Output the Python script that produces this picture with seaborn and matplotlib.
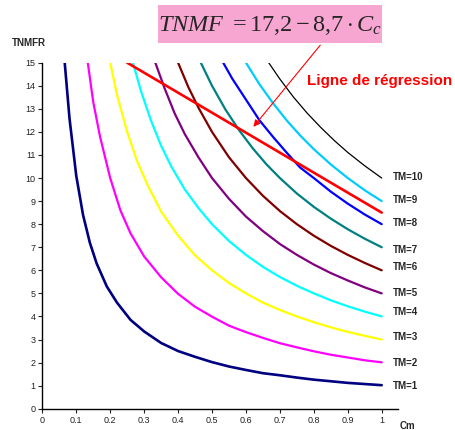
import pandas as pd
import matplotlib.pyplot as plt
import seaborn as sns
from matplotlib.patches import Rectangle

# Courbes : Cm -> TNMFR pour chaque TM
x_tm1 = [0.066, 0.08, 0.10, 0.12, 0.14, 0.16, 0.19, 0.22, 0.26, 0.30, 0.35, 0.40,
         0.45, 0.50, 0.55, 0.60, 0.65, 0.70, 0.75, 0.80, 0.85, 0.90, 0.95, 1.00]
y_tm1 = [15.0, 12.6, 10.1, 8.4, 7.2, 6.3, 5.3, 4.6, 3.85, 3.35, 2.85, 2.5,
         2.25, 2.02, 1.83, 1.68, 1.54, 1.45, 1.35, 1.26, 1.19, 1.12, 1.07, 1.02]
x_tm2 = [0.134, 0.15, 0.17, 0.20, 0.23, 0.26, 0.30, 0.35, 0.40, 0.45, 0.50,
         0.55, 0.60, 0.65, 0.70, 0.75, 0.80, 0.85, 0.90, 0.95, 1.00]
y_tm2 = [15.0, 13.3, 11.8, 10.0, 8.6, 7.6, 6.6, 5.7, 4.98, 4.42, 3.99,
         3.6, 3.32, 3.07, 2.84, 2.66, 2.49, 2.34, 2.22, 2.1, 2.01]
x_tm3 = [0.20, 0.22, 0.25, 0.28, 0.31, 0.35, 0.40, 0.45, 0.50, 0.55,
         0.60, 0.65, 0.70, 0.75, 0.80, 0.85, 0.90, 0.95, 1.00]
y_tm3 = [15.0, 13.6, 12.0, 10.7, 9.7, 8.55, 7.5, 6.65, 6.0, 5.45,
         5.0, 4.6, 4.28, 4.0, 3.75, 3.53, 3.33, 3.16, 3.0]
x_tm4 = [0.267, 0.29, 0.32, 0.35, 0.38, 0.42, 0.46, 0.50, 0.55, 0.60,
         0.65, 0.70, 0.75, 0.80, 0.85, 0.90, 0.95, 1.00]
y_tm4 = [15.0, 13.8, 12.5, 11.4, 10.5, 9.5, 8.7, 8.0, 7.27, 6.67,
         6.15, 5.71, 5.33, 5.0, 4.7, 4.44, 4.21, 4.0]
x_tm5 = [0.333, 0.36, 0.39, 0.42, 0.46, 0.50, 0.55, 0.60, 0.65, 0.70,
         0.75, 0.80, 0.85, 0.90, 0.95, 1.00]
y_tm5 = [15.0, 13.9, 12.8, 11.9, 10.9, 10.0, 9.1, 8.33, 7.7, 7.14,
         6.67, 6.25, 5.88, 5.56, 5.26, 5.0]
x_tm6 = [0.40, 0.43, 0.46, 0.50, 0.55, 0.60, 0.65, 0.70, 0.75, 0.80,
         0.85, 0.90, 0.95, 1.00]
y_tm6 = [15.0, 13.95, 13.05, 12.0, 10.9, 10.0, 9.23, 8.57, 8.0, 7.5,
         7.06, 6.67, 6.32, 6.0]
x_tm7 = [0.467, 0.50, 0.54, 0.58, 0.62, 0.66, 0.70, 0.75, 0.80, 0.85,
         0.90, 0.95, 1.00]
y_tm7 = [15.0, 14.0, 12.96, 12.07, 11.29, 10.6, 10.0, 9.33, 8.75, 8.24,
         7.78, 7.37, 7.0]
x_tm8 = [0.533, 0.56, 0.60, 0.64, 0.68, 0.72, 0.76, 0.80, 0.85, 0.90, 0.95, 1.00]
y_tm8 = [15.0, 14.3, 13.4, 12.5, 11.78, 11.1, 10.45, 10.0, 9.41, 8.89, 8.42, 8.0]
x_tm9 = [0.60, 0.64, 0.68, 0.72, 0.76, 0.80, 0.85, 0.90, 0.95, 1.00]
y_tm9 = [15.0, 14.06, 13.24, 12.5, 11.84, 11.25, 10.59, 10.0, 9.47, 9.0]
x_tm10 = [0.667, 0.70, 0.74, 0.78, 0.82, 0.86, 0.90, 0.95, 1.00]
y_tm10 = [15.0, 14.29, 13.51, 12.82, 12.2, 11.63, 11.11, 10.53, 10.0]

# Ligne de régression TNMF = 17,2 - 8,7 Cc
x_reg = [0.25, 1.0]
y_reg = [15.0, 8.5]

tm_labels = ['TM=1', 'TM=2', 'TM=3', 'TM=4', 'TM=5',
             'TM=6', 'TM=7', 'TM=8', 'TM=9', 'TM=10']
label_y = [0.98, 1.97, 3.09, 4.2, 5.03, 6.13, 6.88, 8.06, 9.05, 10.06]
x_ticks = [0, 0.1, 0.2, 0.3, 0.4, 0.5, 0.6, 0.7, 0.8, 0.9, 1]
x_ticklabels = ['0', '0.1', '0.2', '0.3', '0.4', '0.5', '0.6', '0.7', '0.8', '0.9', '1']

couleurs = ['#000080', '#ff00ff', '#ffff00', '#00ffff', '#800080',
            '#800000', '#008080', '#0000ff', '#00ccff', '#000000']
epaisseurs = [1.9, 1.6, 1.6, 1.6, 1.6, 1.6, 1.6, 1.6, 1.6, 0.9]

xs = [x_tm1, x_tm2, x_tm3, x_tm4, x_tm5, x_tm6, x_tm7, x_tm8, x_tm9, x_tm10]
ys = [y_tm1, y_tm2, y_tm3, y_tm4, y_tm5, y_tm6, y_tm7, y_tm8, y_tm9, y_tm10]

frames = []
for lab, xv, yv in zip(tm_labels, xs, ys):
    frames.append(pd.DataFrame({'Cm': xv, 'TNMFR': yv, 'TM': lab}))
df = pd.concat(frames, ignore_index=True)

sns.set_style("ticks")
plt.rcParams['font.family'] = ['Liberation Sans', 'DejaVu Sans']
plt.rcParams['mathtext.fontset'] = 'custom'
plt.rcParams['mathtext.rm'] = 'Liberation Serif'
plt.rcParams['mathtext.it'] = 'Liberation Serif:italic'

fig = plt.figure(figsize=(4.55, 4.30), dpi=100)
ax = fig.add_axes([0.093, 0.0495, 0.7817, 0.8047])

for lab, c, lw in zip(tm_labels, couleurs, epaisseurs):
    sns.lineplot(data=df[df['TM'] == lab], x='Cm', y='TNMFR', color=c,
                 linewidth=lw, estimator=None, ax=ax, legend=False)

sns.lineplot(x=x_reg, y=y_reg, color='#ff0000', linewidth=1.9, ax=ax, legend=False)

for lab, yl in zip(tm_labels, label_y):
    ax.text(1.033, yl, lab, fontsize=7, fontweight='bold', va='center', ha='left',
            clip_on=False)

ax.set_xlim(0, 1.048)
ax.set_ylim(0, 15)
ax.set_xticks(x_ticks)
ax.set_xticklabels(x_ticklabels)
ax.set_yticks(range(16))
ax.tick_params(labelsize=6.5, length=3, width=0.8, pad=2, colors='#222222')
ax.set_xlabel('')
ax.set_ylabel('')
for s in ['left', 'bottom']:
    ax.spines[s].set_linewidth(1.0)
    ax.spines[s].set_color('black')
sns.despine(ax=ax)

fig.text(12 / 455, 1 - 43 / 430, 'TNMFR', fontsize=7, fontweight='bold', va='center', ha='left')
fig.text(400 / 455, 1 - 426 / 430, 'Cm', fontsize=7, fontweight='bold', va='center', ha='left')

# Encadré de l'équation
fig.patches.append(Rectangle((158 / 455, 1 - 43 / 430), 224 / 455, 38 / 430,
                             transform=fig.transFigure, facecolor='#f7a6d2',
                             edgecolor='none', zorder=0))
fig.text(270 / 455, 1 - 31 / 430, r'$TNMF\ = 17{,}2 - 8{,}7 \cdot C_c$',
         fontsize=17.5, ha='center', va='baseline')

ax.text(0.78, 14.2, 'Ligne de régression', color='#ff0000', fontsize=11,
        fontweight='bold', ha='left', va='center', clip_on=False)
ax.annotate('', xy=(0.622, 12.22), xytext=(0.819, 15.76),
            arrowprops=dict(arrowstyle='-|>', color='#ff0000', lw=0.8,
                            mutation_scale=10, shrinkA=0, shrinkB=0),
            annotation_clip=False)

fig.savefig('out.png', dpi=100)
